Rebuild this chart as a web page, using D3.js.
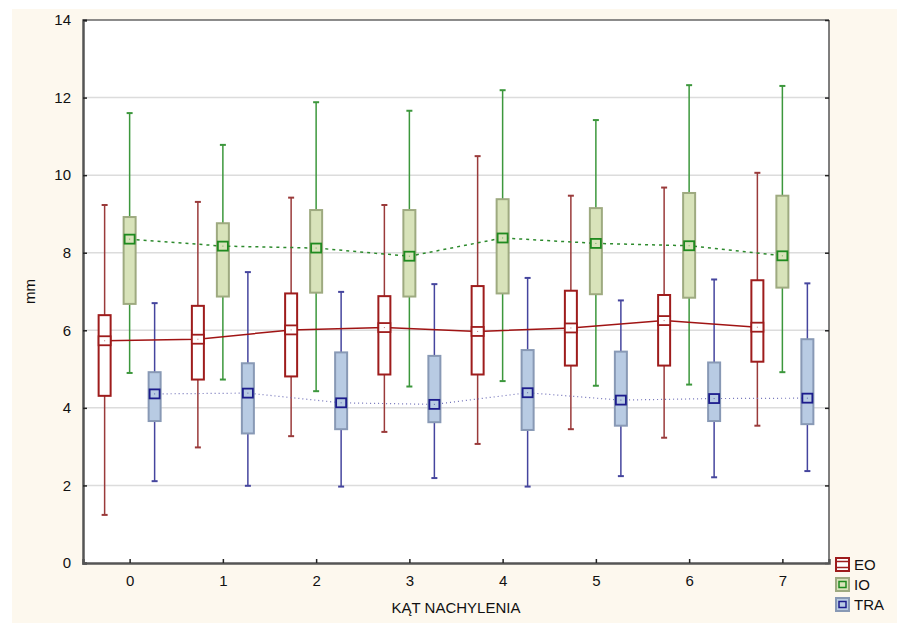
<!DOCTYPE html>
<html>
<head>
<meta charset="utf-8">
<script src="https://cdn.jsdelivr.net/npm/d3@7"></script>
<style>
  body { margin: 0; background: #ffffff; }
  svg { display: block; font-family: "Liberation Sans", Arial, sans-serif; }
</style>
</head>
<body>
<svg id="chart" width="897" height="623"></svg>
<script>
// Tilt angle categories
const categories = [0, 1, 2, 3, 4, 5, 6, 7];

// EO: whisker min/max, box q1/q3, marker (mean)
const eoMax  = [9.23, 9.31, 9.42, 9.23, 10.49, 9.47, 9.68, 10.06];
const eoQ3   = [6.39, 6.63, 6.95, 6.88, 7.14, 7.02, 6.91, 7.29];
const eoMean = [5.73, 5.77, 6.01, 6.07, 5.97, 6.06, 6.25, 6.08];
const eoQ1   = [4.31, 4.73, 4.81, 4.86, 4.86, 5.09, 5.09, 5.19];
const eoMin  = [1.24, 2.98, 3.27, 3.38, 3.07, 3.45, 3.23, 3.54];

// IO
const ioMax  = [11.60, 10.78, 11.88, 11.66, 12.19, 11.42, 12.32, 12.30];
const ioQ3   = [8.92, 8.76, 9.10, 9.10, 9.38, 9.15, 9.54, 9.47];
const ioMean = [8.35, 8.17, 8.12, 7.91, 8.38, 8.24, 8.18, 7.92];
const ioQ1   = [6.68, 6.87, 6.97, 6.87, 6.95, 6.93, 6.84, 7.10];
const ioMin  = [4.90, 4.73, 4.43, 4.55, 4.69, 4.57, 4.60, 4.92];

// TRA
const traMax  = [6.70, 7.50, 6.99, 7.19, 7.35, 6.77, 7.31, 7.21];
const traQ3   = [4.92, 5.15, 5.43, 5.34, 5.49, 5.45, 5.17, 5.77];
const traMean = [4.36, 4.38, 4.13, 4.09, 4.39, 4.20, 4.24, 4.25];
const traQ1   = [3.66, 3.34, 3.45, 3.63, 3.43, 3.54, 3.66, 3.58];
const traMin  = [2.11, 1.99, 1.97, 2.19, 1.97, 2.24, 2.21, 2.37];

const yTicks = [0, 2, 4, 6, 8, 10, 12, 14];

const series = [
  { name: "EO", offset: -25, max: eoMax, q3: eoQ3, mean: eoMean, q1: eoQ1, min: eoMin,
    boxFill: "#ffffff", boxStroke: "#9e1c1c", whisker: "#9a3a3a", marker: "#9e1c1c",
    line: "#a01414", dash: null, lineWidth: 1.5 },
  { name: "IO", offset: 0, max: ioMax, q3: ioQ3, mean: ioMean, q1: ioQ1, min: ioMin,
    boxFill: "#d8e3ba", boxStroke: "#9eaa80", whisker: "#3c973c", marker: "#1f8a1f",
    line: "#2d8a2d", dash: "3,4", lineWidth: 1.5 },
  { name: "TRA", offset: 25, max: traMax, q3: traQ3, mean: traMean, q1: traQ1, min: traMin,
    boxFill: "#b8cbe3", boxStroke: "#8899b5", whisker: "#45459e", marker: "#1c1c8c",
    line: "#7070b8", dash: "1,3", lineWidth: 1.2 }
];

const svg = d3.select("#chart");
const margin = { top: 20, right: 68, bottom: 60, left: 83 };
const W = 897, H = 623;
const x = d3.scaleLinear().domain([-0.5, 7.5]).range([margin.left, W - margin.right]);
const y = d3.scaleLinear().domain([0, 14]).range([H - margin.bottom, margin.top]);

// outer cream panel
svg.append("rect")
  .attr("x", 12).attr("y", 9).attr("width", W - 12).attr("height", H - 9)
  .attr("fill", "#fdf8ee");

// plot background
svg.append("rect")
  .attr("x", x(-0.5)).attr("y", y(14))
  .attr("width", x(7.5) - x(-0.5)).attr("height", y(0) - y(14))
  .attr("fill", "#ffffff");

// gridlines
svg.append("g").selectAll("line")
  .data(yTicks.filter(d => d > 0 && d < 14))
  .join("line")
  .attr("x1", x(-0.5)).attr("x2", x(7.5))
  .attr("y1", d => y(d)).attr("y2", d => y(d))
  .attr("stroke", "#dcdcdc").attr("stroke-width", 1.5);

// boxes, whiskers
const boxW = 12, capW = 6, mk = 9;
series.forEach(s => {
  const g = svg.append("g");
  const pts = categories.map((c, i) => ({ c, i }));
  // whiskers
  g.selectAll(".wh").data(pts).join("line")
    .attr("x1", d => x(d.c) + s.offset).attr("x2", d => x(d.c) + s.offset)
    .attr("y1", d => y(s.max[d.i])).attr("y2", d => y(s.min[d.i]))
    .attr("stroke", s.whisker).attr("stroke-width", 1.5);
  ["max", "min"].forEach(k => {
    g.selectAll(".cap-" + k).data(pts).join("line")
      .attr("x1", d => x(d.c) + s.offset - capW / 2).attr("x2", d => x(d.c) + s.offset + capW / 2)
      .attr("y1", d => y(s[k][d.i])).attr("y2", d => y(s[k][d.i]))
      .attr("stroke", s.whisker).attr("stroke-width", 2);
  });
  // boxes
  g.selectAll(".box").data(pts).join("rect")
    .attr("x", d => x(d.c) + s.offset - boxW / 2)
    .attr("width", boxW)
    .attr("y", d => y(s.q3[d.i]))
    .attr("height", d => y(s.q1[d.i]) - y(s.q3[d.i]))
    .attr("fill", s.boxFill).attr("stroke", s.boxStroke).attr("stroke-width", 2);
});

// lines joining means
series.forEach(s => {
  const line = d3.line().x(d => x(d.c) + s.offset).y(d => y(d.v));
  svg.append("path")
    .datum(categories.map((c, i) => ({ c, v: s.mean[i] })))
    .attr("d", line)
    .attr("fill", "none")
    .attr("stroke", s.line)
    .attr("stroke-width", s.lineWidth)
    .attr("stroke-dasharray", s.dash);
});

// mean markers
series.forEach(s => {
  svg.append("g").selectAll("rect")
    .data(categories.map((c, i) => ({ c, v: s.mean[i] })))
    .join("rect")
    .attr("x", d => x(d.c) + s.offset - (s.name === "EO" ? boxW / 2 : mk / 2 + 0.5))
    .attr("y", d => y(d.v) - mk / 2)
    .attr("width", s.name === "EO" ? boxW : mk + 1)
    .attr("height", mk)
    .attr("fill", s.boxFill)
    .attr("stroke", s.marker).attr("stroke-width", 1.8);
  svg.append("g").selectAll("rect")
    .data(categories.map((c, i) => ({ c, v: s.mean[i] })))
    .join("rect")
    .attr("x", d => x(d.c) + s.offset - 0.5)
    .attr("y", d => y(d.v) - 0.5)
    .attr("width", 1).attr("height", 1)
    .attr("fill", s.marker).attr("opacity", 0.6);
});

// frame: top and right
svg.append("line").attr("x1", x(-0.5)).attr("x2", x(7.5)).attr("y1", y(14)).attr("y2", y(14))
  .attr("stroke", "#666").attr("stroke-width", 1.5);
svg.append("line").attr("x1", x(7.5)).attr("x2", x(7.5)).attr("y1", y(14)).attr("y2", y(0))
  .attr("stroke", "#555").attr("stroke-width", 1.5);

// axes
const yAxis = svg.append("g")
  .attr("transform", `translate(${x(-0.5)},0)`)
  .call(d3.axisLeft(y).tickValues(yTicks).tickSize(-4).tickPadding(12));
yAxis.select(".domain").attr("stroke", "#555").attr("stroke-width", 2.5);
yAxis.selectAll(".tick line").attr("stroke", "#222").attr("stroke-width", 1.5);
yAxis.selectAll("text").attr("font-size", 15).attr("fill", "#111");

const yAxisR = svg.append("g")
  .attr("transform", `translate(${x(7.5)},0)`)
  .call(d3.axisRight(y).tickValues(yTicks).tickSize(-4).tickFormat(""));
yAxisR.select(".domain").remove();
yAxisR.selectAll(".tick line").attr("stroke", "#222").attr("stroke-width", 1.5);

const xAxis = svg.append("g")
  .attr("transform", `translate(0,${y(0)})`)
  .call(d3.axisBottom(x).tickValues(categories).tickSize(-4).tickPadding(12).tickFormat(d3.format("d")));
xAxis.select(".domain").attr("stroke", "#555").attr("stroke-width", 2.5);
xAxis.selectAll(".tick line").attr("stroke", "#222").attr("stroke-width", 1.5);
xAxis.selectAll("text").attr("font-size", 15).attr("fill", "#111");

// axis titles
svg.append("text")
  .attr("x", (x(-0.5) + x(7.5)) / 2).attr("y", 613)
  .attr("text-anchor", "middle").attr("font-size", 15).attr("fill", "#111")
  .text("KĄT NACHYLENIA");
svg.append("text")
  .attr("transform", `translate(35,${(y(0) + y(14)) / 2}) rotate(-90)`)
  .attr("text-anchor", "middle").attr("font-size", 15).attr("fill", "#111")
  .text("mm");

// legend
const legend = svg.append("g").attr("transform", "translate(836,558)");
series.forEach((s, i) => {
  const lg = legend.append("g").attr("transform", `translate(0,${i * 20})`);
  lg.append("rect").attr("x", 0).attr("y", 0).attr("width", 13).attr("height", 13)
    .attr("fill", s.boxFill).attr("stroke", s.boxStroke).attr("stroke-width", 2);
  lg.append("rect").attr("x", s.name === "EO" ? 0 : 3).attr("y", 3.5).attr("width", s.name === "EO" ? 13 : 7).attr("height", 6)
    .attr("fill", "none").attr("stroke", s.marker).attr("stroke-width", 1.5);
  lg.append("text").attr("x", 18).attr("y", 12).attr("font-size", 15).attr("fill", "#111")
    .text(s.name);
});
</script>
</body>
</html>
